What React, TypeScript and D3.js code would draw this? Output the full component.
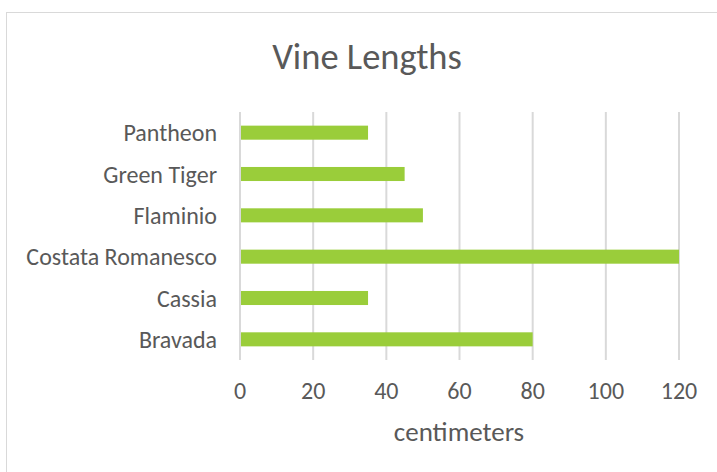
import React from "react";
import * as d3 from "d3";

const categories = ["Pantheon", "Green Tiger", "Flaminio", "Costata Romanesco", "Cassia", "Bravada"];
const values = [35, 45, 50, 120, 35, 80];
const xTicks = [0, 20, 40, 60, 80, 100, 120];
const title = "Vine Lengths";
const xTitle = "centimeters";

export default function App() {
  const W = 717, H = 472;
  const left = 240, right = 679, top = 112, bottom = 360;
  const x = d3.scaleLinear().domain([0, 120]).range([left, right]);
  const y = d3.scaleBand().domain(categories).range([top, bottom]).paddingInner(0.66).paddingOuter(0.33);
  const font = "Carlito, Calibri, 'Open Sans', sans-serif";
  const txt = "#595959";
  return (
    <svg width={W} height={H} style={{ position: "absolute", left: 0, top: 0, background: "#fff" }} fontFamily={font}>
      <rect x={6.5} y={12.5} width={W + 10} height={H + 10} fill="#fff" stroke="#d9d9d9" strokeWidth={1} />
      <text x={367} y={56} textAnchor="middle" dominantBaseline="central" fontSize={36.5} fill={txt}>{title}</text>
      {xTicks.map((t) => (
        <g key={t}>
          <line x1={x(t)} x2={x(t)} y1={top} y2={bottom} stroke="#d9d9d9" strokeWidth={2} />
          <text x={x(t)} y={390} textAnchor="middle" dominantBaseline="central" fontSize={24} fill={txt}>{t}</text>
        </g>
      ))}
      {categories.map((c, i) => (
        <g key={c}>
          <rect x={x(0) + 1} y={y(c)!} width={x(values[i]) - x(0) - 1} height={y.bandwidth()} fill="#9acd3a" />
          <text x={217} y={y(c)! + y.bandwidth() / 2} textAnchor="end" dominantBaseline="central" fontSize={24} fill={txt}>{c}</text>
        </g>
      ))}
      <text x={459} y={431} textAnchor="middle" dominantBaseline="central" fontSize={27} fill={txt}>{xTitle}</text>
    </svg>
  );
}
